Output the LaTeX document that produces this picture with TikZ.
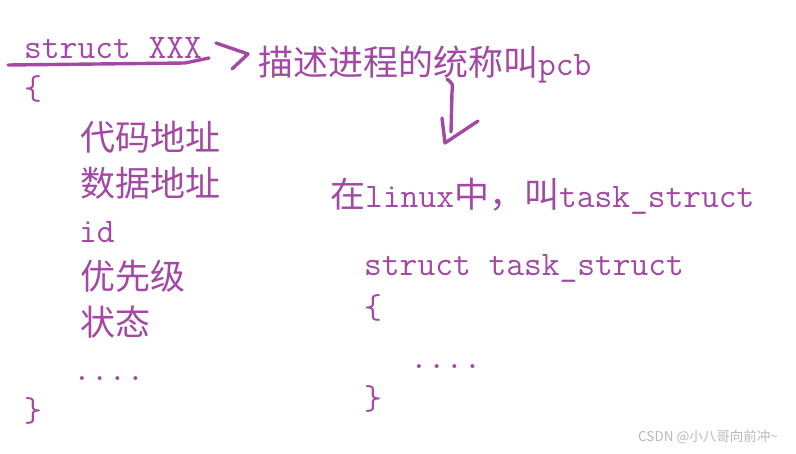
\documentclass[tikz,border=0pt]{standalone}
\usepackage{fontspec}
\newfontfamily\cjk{Noto Sans CJK SC}
\usepackage{xcolor}
\usetikzlibrary{positioning}
\definecolor{penpurple}{RGB}{163,73,164}
\newcommand{\zh}[1]{{\cjk\fontsize{35}{40}\selectfont #1}}

\begin{document}
\begin{tikzpicture}[
    x=1pt, y=-1pt,
    code/.style={anchor=base west, inner sep=0pt, text=penpurple, font=\ttfamily\fontsize{34.5}{38}\selectfont},
    pen/.style={draw=penpurple, line width=3.4pt, line cap=round, line join=round},
    wmark/.style={anchor=west, inner sep=0pt, text=black!28, font=\cjk\fontsize{13.5}{15}\selectfont}
]
\useasboundingbox (0,0) rectangle (796,453);

% === Left: generic struct ===
\node[code] (xxx) at (24,58) {struct XXX};
\node[code] (lbrace) at (24,99) {\{};
\node[code] (codeaddr) at (80,150) {\zh{代码地址}};
\node[code] (dataaddr) at (80,196) {\zh{数据地址}};
\node[code] (idfield) at (79,242) {id};
\node[code] (prio) at (80,289) {\zh{优先级}};
\node[code] (stat) at (80,335) {\zh{状态}};
\node[code] (ldots) at (73,380) {....};
\node[code] (rbrace) at (24,421) {\}};

% === Top: name of the struct ===
\node[code] (pcbtext) at (258,75) {\zh{描述进程的统称叫}pcb};

% === Right: linux task_struct ===
\node[code] (linuxtext) at (330,207) {\zh{在}linux\zh{中，叫}task\_struct};
\node[code] (taskhead) at (364,275) {struct task\_struct};
\node[code] (tlbrace) at (364,318) {\{};
\node[code] (tdots) at (410,368) {....};
\node[code] (trbrace) at (364,409) {\}};

% === Pen strokes ===
\draw[pen] (8,65) -- (185,63) -- (209,58);
\draw[pen] (216,43) -- (248,54) -- (232,69);
\draw[pen] (447,79) .. controls (453,84) .. (452,92) -- (451,132);
\draw[pen] (442,118) -- (445,143) -- (478,121);

\node[wmark] (watermark) at (638,437) {CSDN @小八哥向前冲\textasciitilde};

\end{tikzpicture}
\end{document}
